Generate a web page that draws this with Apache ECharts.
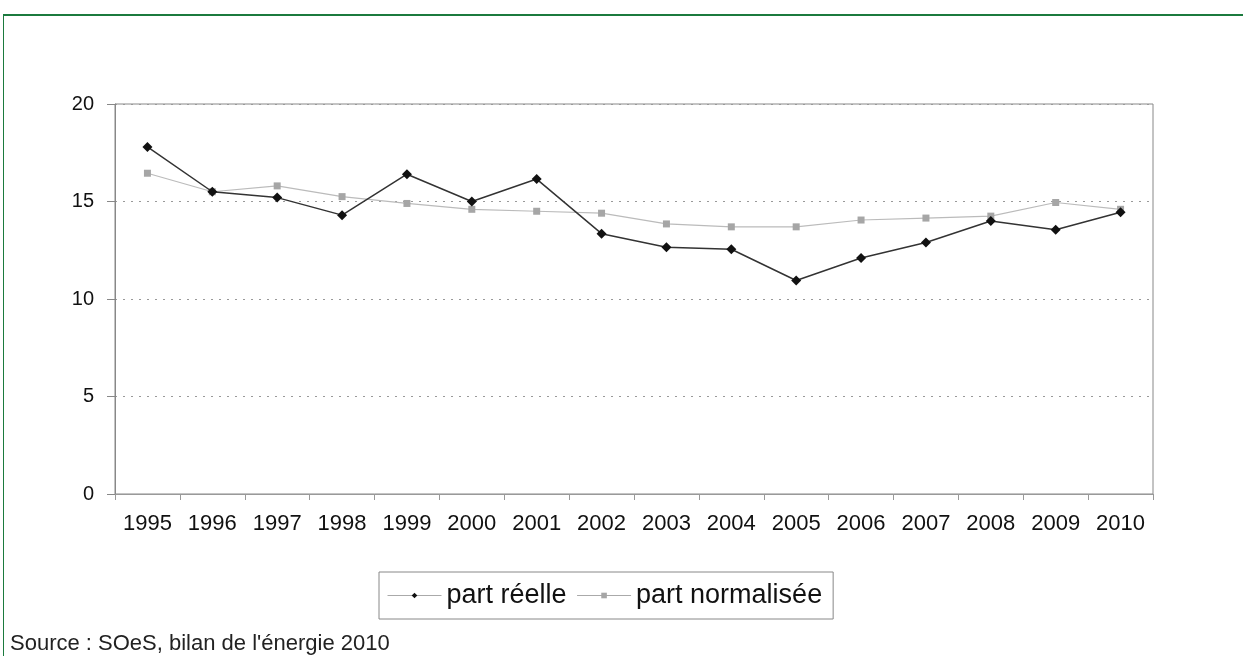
<!DOCTYPE html>
<html>
<head>
<meta charset="utf-8">
<script src="https://cdn.jsdelivr.net/npm/echarts@6/dist/echarts.min.js"></script>
<style>
  html, body { margin: 0; padding: 0; background: #fff; }
  #frame { position: absolute; left: 3px; top: 14px; width: 1240px; height: 642px;
           border-top: 2px solid #1b7a3e; border-left: 1px solid #1b7a3e; box-sizing: border-box; }
  #chart { position: absolute; left: 0; top: 0; width: 1243px; height: 656px; }
</style>
</head>
<body>
<div id="frame"></div>
<div id="chart"></div>
<script>
const years = ['1995','1996','1997','1998','1999','2000','2001','2002','2003','2004','2005','2006','2007','2008','2009','2010'];
const partReelle = [17.8, 15.5, 15.2, 14.3, 16.4, 15.0, 16.15, 13.35, 12.65, 12.55, 10.95, 12.1, 12.9, 14.0, 13.55, 14.45];
const partNormalisee = [16.45, 15.5, 15.8, 15.25, 14.9, 14.6, 14.5, 14.4, 13.85, 13.7, 13.7, 14.05, 14.15, 14.25, 14.95, 14.6];
const yTicks = [0, 5, 10, 15, 20];
const sourceText = "Source : SOeS, bilan de l'énergie 2010";

const chart = echarts.init(document.getElementById('chart'), null, { renderer: 'canvas' });
const font = 'Liberation Sans, Arial, sans-serif';
chart.setOption({
  animation: false,
  backgroundColor: 'transparent',
  textStyle: { fontFamily: font },
  grid: { left: 115, right: 90, top: 104, bottom: 162, show: true, borderColor: '#888', borderWidth: 1, backgroundColor: 'transparent' },
  xAxis: {
    type: 'category', data: years, boundaryGap: true,
    axisLine: { lineStyle: { color: '#999', width: 1 } },
    axisTick: { show: true, length: 6, lineStyle: { color: '#999' } },
    axisLabel: { color: '#111', fontSize: 22, margin: 19, fontFamily: font }
  },
  yAxis: {
    type: 'value', min: yTicks[0], max: yTicks[yTicks.length - 1], interval: 5,
    axisLine: { show: true, lineStyle: { color: '#888' } },
    axisTick: { show: true, length: 8, lineStyle: { color: '#888' } },
    axisLabel: { color: '#111', fontSize: 20, margin: 21, fontFamily: font },
    splitLine: { show: true, lineStyle: { color: '#999', type: [2, 6], width: 1 } }
  },
  legend: {
    left: 379, top: 572, itemGap: 10, itemWidth: 54, itemHeight: 7,
    padding: [10, 11, 10, 8],
    borderColor: '#888', borderWidth: 1,
    lineStyle: { color: '#aaa', width: 1 },
    textStyle: { fontSize: 27, color: '#111', fontFamily: font },
    data: ['part réelle', 'part normalisée']
  },
  graphic: [{
    type: 'text', left: 10, top: 633,
    style: { text: sourceText, fontSize: 22, fill: '#222', fontFamily: font }
  }],
  series: [
    {
      name: 'part réelle', type: 'line', data: partReelle,
      symbol: 'diamond', symbolSize: 10,
      lineStyle: { color: '#333', width: 1.5 },
      itemStyle: { color: '#111' }, z: 3
    },
    {
      name: 'part normalisée', type: 'line', data: partNormalisee,
      symbol: 'rect', symbolSize: 7,
      lineStyle: { color: '#bbb', width: 1.2 },
      itemStyle: { color: '#a6a6a6' }, z: 2
    }
  ]
});
</script>
</body>
</html>
